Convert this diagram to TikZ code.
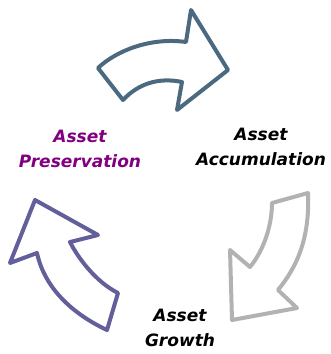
\documentclass[tikz,border=0pt]{standalone}
\usepackage{fontspec}
\setmainfont{DejaVu Sans}
\usepackage{tikz}

\definecolor{steelarrow}{RGB}{75,106,128}
\definecolor{slatearrow}{RGB}{98,95,155}
\definecolor{greyarrow}{RGB}{178,178,178}
\definecolor{labelpurple}{RGB}{128,0,128}

\tikzset{
  cyclearrow/.style={line width=4pt, line join=round},
  cyclelabel/.style={font=\fontsize{17}{25}\selectfont\bfseries\itshape, align=center, inner sep=0pt}
}

\begin{document}
\begin{tikzpicture}[x=1pt, y=-1pt]
\useasboundingbox (0,0) rectangle (330,354);

% ---- TOP ARROW ----
\draw[cyclearrow, steelarrow] (98,68) .. controls (116,51) and (150,37) .. (186,42)
  -- (191,10) -- (228,70) -- (177,110) -- (182,82)
  .. controls (158,77) and (138,84) .. (123,100) -- cycle;

% ---- RIGHT ARROW ----
\draw[cyclearrow, greyarrow] (308,193) -- (272,203)
  .. controls (272,225) and (264,250) .. (250,267)
  -- (230,250) -- (232,320) -- (297,308) -- (278,290)
  .. controls (296,268) and (310,240) .. cycle;

% ---- LEFT ARROW ----
\draw[cyclearrow, slatearrow] (35,200) -- (98,235) -- (70,242)
  .. controls (78,258) and (96,282) .. (118,293)
  -- (107,330)
  .. controls (75,315) and (45,290) .. (37,253)
  -- (10,263) -- cycle;

% Labels
\node[cyclelabel, text=labelpurple] (preserve) at (80,149) {Asset\\Preservation};
\node[cyclelabel] (accum) at (261,147) {Asset\\Accumulation};
\node[cyclelabel] (growth) at (180,328) {Asset\\Growth};

\end{tikzpicture}
\end{document}
